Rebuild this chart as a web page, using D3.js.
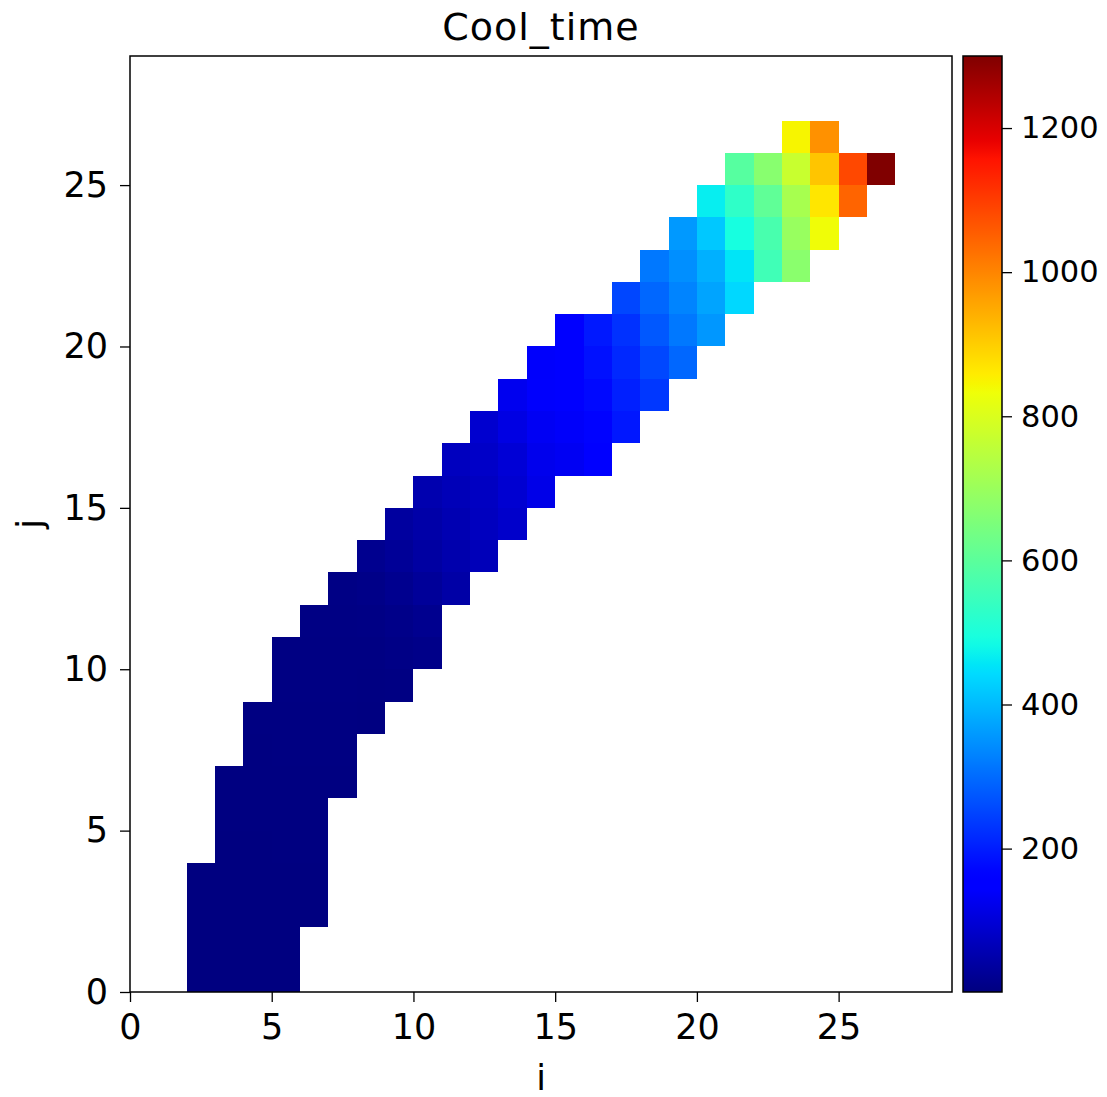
<!DOCTYPE html>
<html>
<head>
<meta charset="utf-8">
<script src="https://cdn.jsdelivr.net/npm/d3@7"></script>
<style>
  body { margin: 0; background: #fff; }
  text { font-family: "DejaVu Sans", sans-serif; fill: #000; }
</style>
</head>
<body>
<div id="chart"></div>
<script>
// Grid columns (i), first filled row (j) per column, and the Cool_time values from bottom to top
const iCols = [2, 3, 4, 5, 6, 7, 8, 9, 10, 11, 12, 13, 14, 15, 16, 17, 18, 19, 20, 21, 22, 23, 24, 25, 26];
const jStart = [0, 0, 0, 0, 2, 6, 8, 9, 10, 12, 13, 14, 15, 16, 16, 17, 18, 19, 20, 21, 22, 22, 23, 24, 25];
const coolTime = [
    [1, 1, 1, 2],
    [1, 1, 2, 2, 2, 3, 3],
    [1, 1, 2, 2, 2, 3, 3, 3, 4],
    [1, 2, 2, 2, 3, 3, 3, 4, 4, 5, 5],
    [2, 2, 3, 3, 3, 4, 4, 5, 5, 6],
    [3, 4, 4, 5, 5, 6, 7],
    [3, 4, 5, 7, 10, 18],
    [5, 8, 12, 18, 27, 36],
    [12, 18, 30, 40, 46, 54],
    [44, 52, 58, 64, 72],
    [66, 72, 76, 82, 90],
    [86, 92, 98, 112, 126],
    [118, 124, 132, 142, 140],
    [130, 138, 150, 156, 152],
    [152, 166, 174, 184, 194],
    [193, 203, 214, 226, 252],
    [234, 254, 275, 295, 316],
    [295, 316, 331, 346, 358],
    [356, 372, 388, 418, 466],
    [438, 455, 492, 530, 592],
    [556, 570, 607, 670],
    [673, 696, 720, 771, 846],
    [835, 867, 912, 984],
    [1046, 1084],
    [1300]
];
const axisTicks = [0, 5, 10, 15, 20, 25];
const cbarTicks = [200, 400, 600, 800, 1000, 1200];
const gridSize = 29;

// Flatten into cells
const cells = [];
iCols.forEach((i, k) => {
    coolTime[k].forEach((v, n) => cells.push({ i: i, j: jStart[k] + n, value: v }));
});

const width = 1107, height = 1097;
const plot = { left: 130, right: 952, top: 56, bottom: 992 };
const cbar = { left: 963, right: 1002 };

const svg = d3.select("#chart").append("svg")
    .attr("width", width)
    .attr("height", height)
    .style("display", "block");

svg.append("rect").attr("width", width).attr("height", height).attr("fill", "#fff");

const x = d3.scaleLinear().domain([0, gridSize]).range([plot.left, plot.right]);
const y = d3.scaleLinear().domain([0, gridSize]).range([plot.bottom, plot.top]);

// matplotlib "jet" colormap, channel by channel
const jetR = d3.scaleLinear().domain([0, 0.35, 0.66, 0.89, 1]).range([0, 0, 1, 1, 0.5]).clamp(true);
const jetG = d3.scaleLinear().domain([0, 0.125, 0.375, 0.64, 0.91, 1]).range([0, 0, 1, 1, 0, 0]).clamp(true);
const jetB = d3.scaleLinear().domain([0, 0.11, 0.34, 0.65, 1]).range([0.5, 1, 1, 0, 0]).clamp(true);
const jet = t => d3.rgb(jetR(t) * 255, jetG(t) * 255, jetB(t) * 255).formatHex();

const extent = d3.extent(cells, d => d.value);
const norm = d3.scaleLinear().domain(extent).range([0, 1]).clamp(true);
const color = v => jet(norm(v));

// Heatmap cells
svg.append("g")
    .attr("shape-rendering", "crispEdges")
    .selectAll("rect")
    .data(cells)
    .enter()
    .append("rect")
    .attr("x", d => x(d.i))
    .attr("y", d => y(d.j + 1))
    .attr("width", d => x(d.i + 1) - x(d.i))
    .attr("height", d => y(d.j) - y(d.j + 1))
    .attr("fill", d => color(d.value));

// Axes
const xAxis = svg.append("g")
    .attr("transform", `translate(0,${plot.bottom})`)
    .call(d3.axisBottom(x).tickValues(axisTicks).tickSize(10).tickSizeOuter(0).tickPadding(12));
const yAxis = svg.append("g")
    .attr("transform", `translate(${plot.left},0)`)
    .call(d3.axisLeft(y).tickValues(axisTicks).tickSize(10).tickSizeOuter(0).tickPadding(12));

[xAxis, yAxis].forEach(g => {
    g.select(".domain").remove();
    g.selectAll("line").attr("stroke", "#000").attr("stroke-width", 1.3);
    g.selectAll("text").style("font-size", "35px").attr("fill", "#000");
});

// Plot frame
svg.append("rect")
    .attr("x", plot.left).attr("y", plot.top)
    .attr("width", plot.right - plot.left).attr("height", plot.bottom - plot.top)
    .attr("fill", "none").attr("stroke", "#000").attr("stroke-width", 1.5);

// Colorbar
const cb = d3.scaleLinear().domain(extent).range([plot.bottom, plot.top]);
const grad = svg.append("defs").append("linearGradient")
    .attr("id", "jet").attr("x1", 0).attr("y1", 1).attr("x2", 0).attr("y2", 0);
d3.range(0, 1.0001, 0.01).forEach(t => {
    grad.append("stop").attr("offset", t).attr("stop-color", jet(t));
});
svg.append("rect")
    .attr("x", cbar.left).attr("y", plot.top)
    .attr("width", cbar.right - cbar.left).attr("height", plot.bottom - plot.top)
    .attr("fill", "url(#jet)")
    .attr("stroke", "#000").attr("stroke-width", 1.5);

const cAxis = svg.append("g")
    .attr("transform", `translate(${cbar.right},0)`)
    .call(d3.axisRight(cb).tickValues(cbarTicks).tickFormat(d3.format("d"))
        .tickSize(10).tickSizeOuter(0).tickPadding(9));
cAxis.select(".domain").remove();
cAxis.selectAll("line").attr("stroke", "#000").attr("stroke-width", 1.3);
cAxis.selectAll("text").style("font-size", "30.5px").attr("fill", "#000");

// Title and axis labels
svg.append("text")
    .attr("x", (plot.left + plot.right) / 2)
    .attr("y", 40)
    .attr("text-anchor", "middle")
    .style("font-size", "38px")
    .style("letter-spacing", "1px")
    .text("Cool_time");

svg.append("text")
    .attr("x", (plot.left + plot.right) / 2)
    .attr("y", 1090)
    .attr("text-anchor", "middle")
    .style("font-size", "35px")
    .text("i");

svg.append("text")
    .attr("transform", `translate(42,${(plot.top + plot.bottom) / 2}) rotate(-90)`)
    .attr("text-anchor", "middle")
    .style("font-size", "35px")
    .text("j");
</script>
</body>
</html>
